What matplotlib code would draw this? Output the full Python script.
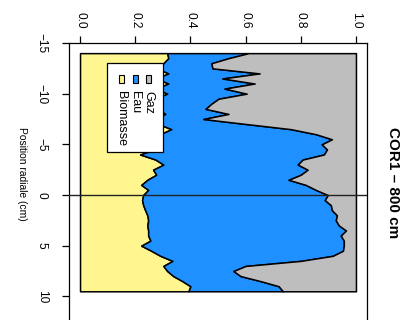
import matplotlib
matplotlib.use("Agg")
import matplotlib.pyplot as plt
from matplotlib.patches import Rectangle
import numpy as np

plt.rcParams['font.family'] = ['Liberation Sans', 'DejaVu Sans']

# ---- data ----
positions = [-14.0, -13.5, -13.0, -12.5, -12.0, -11.5, -11.0, -10.5, -10.0, -9.5,
             -9.0, -8.5, -8.0, -7.5, -7.0, -6.5, -6.0, -5.5, -5.0, -4.5,
             -4.0, -3.5, -3.0, -2.5, -2.0, -1.5, -1.0, -0.5, 0.0, 0.5,
             1.0, 1.5, 2.0, 2.5, 3.0, 3.5, 4.0, 4.5, 5.0, 5.5,
             6.0, 6.5, 7.0, 7.5, 8.0, 8.5, 9.0, 9.5]
biomasse = [0.316, 0.320, 0.302, 0.280, 0.320, 0.276, 0.320, 0.276, 0.316, 0.273,
            0.273, 0.284, 0.309, 0.276, 0.284, 0.331, 0.291, 0.284, 0.280, 0.273,
            0.218, 0.273, 0.302, 0.265, 0.276, 0.244, 0.222, 0.247, 0.229, 0.225,
            0.229, 0.236, 0.244, 0.247, 0.244, 0.247, 0.247, 0.255, 0.222, 0.258,
            0.291, 0.335, 0.302, 0.316, 0.338, 0.371, 0.400, 0.393]
eau = [0.295, 0.218, 0.174, 0.200, 0.331, 0.240, 0.313, 0.248, 0.288, 0.229,
       0.203, 0.171, 0.229, 0.171, 0.320, 0.433, 0.564, 0.629, 0.596, 0.622,
       0.666, 0.534, 0.487, 0.560, 0.524, 0.512, 0.596, 0.608, 0.669, 0.662,
       0.680, 0.677, 0.687, 0.680, 0.694, 0.717, 0.698, 0.701, 0.734, 0.695,
       0.625, 0.465, 0.298, 0.240, 0.244, 0.284, 0.320, 0.342]
gaz = [0.389, 0.462, 0.524, 0.520, 0.349, 0.484, 0.367, 0.476, 0.396, 0.498,
       0.524, 0.545, 0.462, 0.553, 0.396, 0.236, 0.145, 0.087, 0.124, 0.105,
       0.116, 0.193, 0.211, 0.175, 0.200, 0.244, 0.182, 0.145, 0.102, 0.113,
       0.091, 0.087, 0.069, 0.073, 0.062, 0.036, 0.055, 0.044, 0.044, 0.047,
       0.084, 0.200, 0.400, 0.444, 0.418, 0.345, 0.280, 0.265]

series_names = ['Biomasse', 'Eau', 'Gaz']
series_colors = ['#FFF68F', '#1E90FF', '#BEBEBE']
frac_ticks = [0.0, 0.2, 0.4, 0.6, 0.8, 1.0]
frac_tick_labels = ['0.0', '0.2', '0.4', '0.6', '0.8', '1.0']
pos_ticks = [-15, -10, -5, 0, 5, 10]
pos_tick_labels = ['\u221215', '\u221210', '\u22125', '0', '5', '10']
title = 'COR1 \u2013 800 cm'
pos_label = 'Position radiale (cm)'

W, H = 401, 320
fig = plt.figure(figsize=(W / 100, H / 100), dpi=100)


def fx(px):
    return px / W


def fy(py):
    return 1 - py / H


ax_left, ax_right, ax_top, ax_bot = 69, 367, 43, 322
ax = fig.add_axes([fx(ax_left), fy(ax_bot), fx(ax_right - ax_left), (ax_bot - ax_top) / H])

pos = np.array(positions)
layers = [np.array(biomasse), np.array(eau), np.array(gaz)]
lower = np.zeros_like(pos)
for vals, col in zip(layers, series_colors):
    upper = lower + vals
    ax.fill_betweenx(pos, lower, upper, facecolor=col, edgecolor='black', linewidth=1.1, zorder=2)
    lower = upper

ax.axhline(0, color='#222222', linewidth=1.0, zorder=3)

ax.set_xlim(-0.04, 1.04)
ax.set_ylim(12.53, -15)

ax.xaxis.tick_top()
ax.set_xticks(frac_ticks)
ax.set_xticklabels(frac_tick_labels, rotation=-90, fontsize=8.6)
ax.set_yticks(pos_ticks)
ax.set_yticklabels(pos_tick_labels, rotation=-90, fontsize=8.6, va='center')
ax.tick_params(axis='x', direction='out', length=5.3, width=0.9, pad=5.0)
ax.tick_params(axis='y', direction='out', length=5.3, width=0.9, pad=10.0)
ax.spines['bottom'].set_visible(False)
for s in ['top', 'left', 'right']:
    ax.spines[s].set_linewidth(0.9)

# title and axis label (rotated)
fig.text(fx(393), fy(183), title, rotation=-90, ha='center', va='center',
         fontsize=11, fontweight='bold')
fig.text(fx(22), fy(173.5), pos_label, rotation=-90, ha='center', va='center', fontsize=7.4)

# rotated legend drawn manually
leg_box = Rectangle((fx(107), fy(152)), fx(163 - 107), (152 - 63) / H, transform=fig.transFigure,
                    facecolor='white', edgecolor='black', linewidth=0.9, zorder=5)
fig.add_artist(leg_box)
col_x = [121, 135, 148.3]
for name, col, cx in zip(series_names, series_colors, col_x):
    sq = Rectangle((fx(cx - 2.5), fy(83)), fx(5), 8.3 / H, transform=fig.transFigure,
                   facecolor=col, edgecolor='black', linewidth=0.8, zorder=6)
    fig.add_artist(sq)
    fig.text(fx(cx), fy(90.7), name, rotation=-90, ha='center', va='top', fontsize=9.0, zorder=7)

fig.savefig('out.png', dpi=100)
